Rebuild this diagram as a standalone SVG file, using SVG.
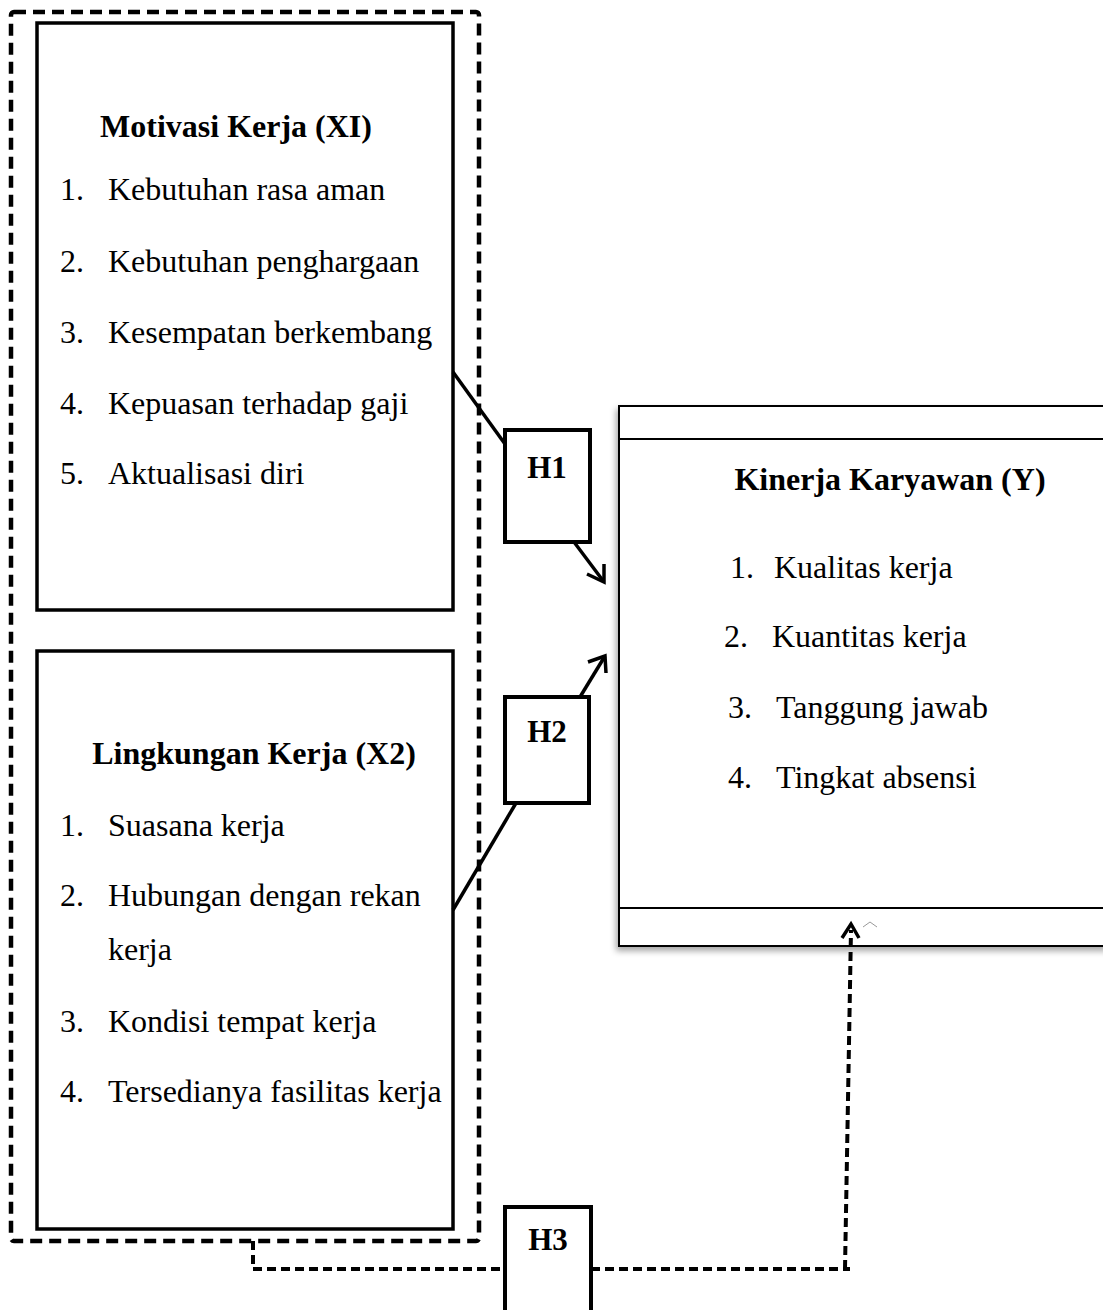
<svg xmlns="http://www.w3.org/2000/svg" width="1103" height="1310" viewBox="0 0 1103 1310">
<style>
text{font-family:"Liberation Serif","Times New Roman",serif;font-size:32px;fill:#000}
.t{font-weight:bold}
.h{font-weight:bold;font-size:31px}
.box{fill:#fff;stroke:#000;stroke-width:3.5}
.hb{fill:#fff;stroke:#000;stroke-width:4}
.ln{fill:none;stroke:#000;stroke-width:3.5}
.ds{fill:none;stroke:#000;stroke-width:4;stroke-dasharray:9 5}
</style>
<defs>
<filter id="sh" x="-5%" y="-5%" width="110%" height="115%">
<feDropShadow dx="-2" dy="4" stdDeviation="3" flood-color="#000" flood-opacity="0.35"/>
</filter>
</defs>
<g id="outer">
<rect x="11" y="12" width="468" height="1229" rx="3" fill="none" stroke="#000" stroke-width="4.5" stroke-dasharray="12 7"/>
</g>
<g id="x1">
<rect class="box" x="37" y="23" width="416" height="587"/>
<text class="t" x="236" y="137" text-anchor="middle">Motivasi Kerja (XI)</text>
<text x="60" y="200">1.</text><text x="108" y="200">Kebutuhan rasa aman</text>
<text x="60" y="272">2.</text><text x="108" y="272">Kebutuhan penghargaan</text>
<text x="60" y="343">3.</text><text x="108" y="343">Kesempatan berkembang</text>
<text x="60" y="414">4.</text><text x="108" y="414">Kepuasan terhadap gaji</text>
<text x="60" y="484">5.</text><text x="108" y="484">Aktualisasi diri</text>
</g>
<g id="x2">
<rect class="box" x="37" y="651" width="416" height="578"/>
<text class="t" x="254" y="764" text-anchor="middle">Lingkungan Kerja (X2)</text>
<text x="60" y="836">1.</text><text x="108" y="836">Suasana kerja</text>
<text x="60" y="906">2.</text><text x="108" y="906">Hubungan dengan rekan</text>
<text x="108" y="960">kerja</text>
<text x="60" y="1032">3.</text><text x="108" y="1032">Kondisi tempat kerja</text>
<text x="60" y="1102">4.</text><text x="108" y="1102">Tersedianya fasilitas kerja</text>
</g>
<g id="y">
<rect x="619" y="406" width="490" height="540" fill="#fff" stroke="#000" stroke-width="2" filter="url(#sh)"/>
<line x1="619" y1="439" x2="1103" y2="439" stroke="#000" stroke-width="2"/>
<line x1="619" y1="908" x2="1103" y2="908" stroke="#000" stroke-width="2"/>
<text class="t" x="890" y="490" text-anchor="middle">Kinerja Karyawan (Y)</text>
<text x="730" y="578">1.</text><text x="774" y="578">Kualitas kerja</text>
<text x="724" y="647">2.</text><text x="772" y="647">Kuantitas kerja</text>
<text x="728" y="718">3.</text><text x="776" y="718">Tanggung jawab</text>
<text x="728" y="788">4.</text><text x="776" y="788">Tingkat absensi</text>
<polyline points="863,927 870,922 877,927" fill="none" stroke="#999" stroke-width="1"/>
</g>
<g id="connectors">
<line class="ln" x1="453" y1="372" x2="505" y2="444"/>
<line class="ln" x1="574" y1="542" x2="604" y2="582"/>
<polyline class="ln" points="587,574 604,582 604,564"/>
<line class="ln" x1="453" y1="910" x2="516" y2="803"/>
<line class="ln" x1="580" y1="697" x2="605" y2="656"/>
<polyline class="ln" points="588,662 605,656 606,673"/>
<polyline class="ds" points="253,1241 253,1269 505,1269"/>
<polyline class="ds" points="591,1269 850,1269"/>
<line class="ds" x1="845" y1="1269" x2="851" y2="930"/>
<polyline class="ln" points="842,938 851,924 859,938"/>
</g>
<g id="h1"><rect class="hb" x="505" y="430" width="85" height="112"/><text class="h" x="547" y="478" text-anchor="middle">H1</text></g>
<g id="h2"><rect class="hb" x="505" y="697" width="84" height="106"/><text class="h" x="547" y="742" text-anchor="middle">H2</text></g>
<g id="h3"><rect class="hb" x="505" y="1207" width="86" height="110"/><text class="h" x="548" y="1250" text-anchor="middle">H3</text></g>
</svg>
